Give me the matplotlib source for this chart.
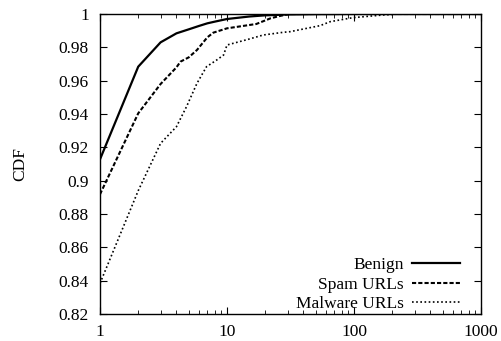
import matplotlib
matplotlib.use("Agg")
import matplotlib.pyplot as plt
from matplotlib.ticker import LogLocator, NullFormatter, FixedLocator

plt.rcParams['font.family'] = ['Liberation Serif', 'DejaVu Serif']
plt.rcParams['font.size'] = 12.5

# === Veri (gözle okunan değerler) ===
benign_x = [1, 2, 3, 4, 5, 6, 7, 8, 10, 15, 20, 30, 50, 100, 300, 1000]
benign_y = [0.9128, 0.9684, 0.983, 0.9884, 0.9908, 0.9928, 0.9944, 0.9954, 0.9970,
            0.9985, 0.9992, 0.9997, 0.9999, 1.0, 1.0, 1.0]

spam_x = [1, 2, 3, 4, 4.3, 5, 5.8, 7, 7.8, 10, 15, 17, 22, 26, 31, 100, 1000]
spam_y = [0.8918, 0.9404, 0.958, 0.968, 0.9714, 0.9740, 0.9784, 0.986, 0.9888, 0.9914,
          0.9934, 0.994, 0.9974, 0.9988, 1.0, 1.0, 1.0]

malware_x = [1, 2, 3, 4, 4.8, 5.8, 6.9, 8.3, 9.4, 10, 15, 19.3, 27.6, 31.4, 54, 65, 98, 169, 230, 1000]
malware_y = [0.8384, 0.894, 0.9224, 0.9324, 0.9444, 0.9584, 0.9684, 0.9724, 0.9754, 0.9814,
             0.985, 0.9874, 0.9890, 0.9894, 0.9930, 0.9954, 0.9978, 0.9994, 1.0, 1.0]

fig = plt.figure(figsize=(5.02, 3.41), dpi=100)
ax = fig.add_axes([100 / 502, 1 - 314 / 341, 381 / 502, 300 / 341])

ax.plot(benign_x, benign_y, color="black", lw=1.6, ls="-", label="Benign")
ax.plot(spam_x, spam_y, color="black", lw=1.5, ls=(0, (2, 1)), label="Spam URLs")
ax.plot(malware_x, malware_y, color="black", lw=1.2, ls=(0, (1, 1.5)), label="Malware URLs")

ax.set_xscale("log")
ax.set_xlim(1, 1000)
ax.set_ylim(0.82, 1.0)
ax.set_xticks([1, 10, 100, 1000])
ax.set_xticklabels(["1", "10", "100", "1000"])
ax.xaxis.set_minor_locator(LogLocator(base=10, subs=range(2, 10)))
ax.xaxis.set_minor_formatter(NullFormatter())
yt = [0.82, 0.84, 0.86, 0.88, 0.9, 0.92, 0.94, 0.96, 0.98, 1.0]
ax.yaxis.set_major_locator(FixedLocator(yt))
ax.set_yticklabels(["0.82", "0.84", "0.86", "0.88", "0.9", "0.92", "0.94", "0.96", "0.98", "1"])

ax.tick_params(which="both", direction="in", top=True, right=True)
ax.tick_params(which="major", length=5, width=0.8)
ax.tick_params(which="minor", length=3, width=0.6)
ax.tick_params(axis="y", which="major", pad=8)
ax.tick_params(axis="x", which="major", pad=7)
for s in ax.spines.values():
    s.set_linewidth(1.0)

ax.set_ylabel("CDF", labelpad=22)

leg = ax.legend(loc="lower right", bbox_to_anchor=(0.945, 0.005), frameon=False,
                markerfirst=False, handlelength=2.75, handletextpad=0.5,
                labelspacing=0.2, borderaxespad=0, borderpad=0, fontsize=12.5)

fig.savefig("out.png", dpi=100)
